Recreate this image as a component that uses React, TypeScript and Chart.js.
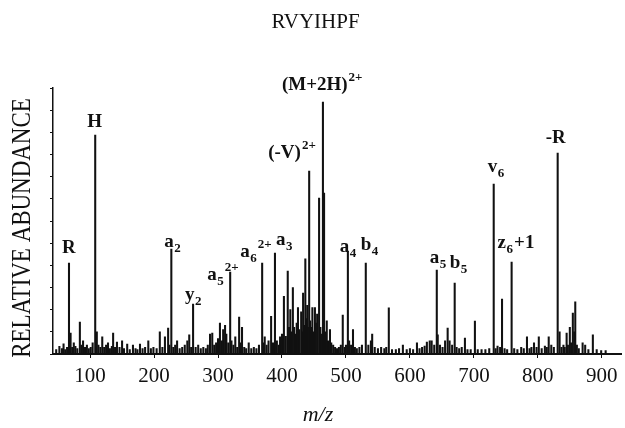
import React, { useEffect, useRef } from 'react';
import { Chart, registerables } from 'chart.js';

Chart.register(...registerables);

// ---- data ----
const chartTitle = 'RVYIHPF';
const yTitle = 'RELATIVE ABUNDANCE';
const xTitle = 'm/z';

const xTickValues = [100, 200, 300, 400, 500, 600, 700, 800, 900];
const yTickValues = [0, 10, 20, 30, 40, 50, 60, 70, 80, 90, 100, 110, 120];

// labelled fragment peaks
const labelledMz = [67, 108, 227, 261, 319, 369, 389, 442.5, 464, 503, 531, 642, 670, 731, 759, 831];
const labelledInt = [41, 98.8, 47.4, 22.5, 37, 41, 45.6, 82.6, 113.7, 46.5, 41, 37.9, 32, 76.7, 41.5, 90.7];
const labelMain = ['R', 'H', 'a', 'y', 'a', 'a', 'a', '(-V)', '(M+2H)', 'a', 'b', 'a', 'b', 'v', 'z', '-R'];
const labelSub = ['', '', '2', '2', '5', '6', '3', '', '', '4', '4', '5', '5', '6', '6', ''];
const labelSup = ['', '', '', '', '2+', '2+', '', '2+', '2+', '', '', '', '', '', '', ''];
const labelTail = ['', '', '', '', '', '', '', '', '', '', '', '', '', '', '+1', ''];

// other (unlabelled) peaks
const otherMz = [
  47, 52, 56, 58.5, 61, 64, 69.5, 72, 74.5, 77, 80, 84, 86.5, 89, 92, 95, 98, 101, 104,
  110.5, 113, 116, 119, 122, 125, 128, 131, 134, 136, 139, 142, 146, 150, 153, 158, 162,
  167, 171, 174, 178, 182, 186, 191, 195, 199, 204, 209, 213, 217, 222, 224, 230, 233,
  236, 240, 244, 248, 252, 255, 258, 265, 269, 273, 277, 281, 284, 287.5, 291, 294, 297,
  300, 303, 306, 308, 311, 313, 316, 321, 324, 327, 330, 333, 335, 337.5, 341, 344, 348,
  352, 356, 360, 364, 371, 373, 376, 379, 383, 386, 392, 395, 397, 400, 403, 406, 409,
  411, 413, 415, 417, 419, 421, 423, 425, 427, 430, 431.5, 433, 435, 436.5, 438, 439.5,
  441, 444, 446, 447.5, 449, 451.5, 453, 455, 458, 460, 462, 465.8, 468, 470, 472, 475,
  477, 480, 483, 486, 489, 492, 495, 498, 500, 505, 508, 511, 514, 517, 521, 525, 535,
  539, 541, 545, 550, 555, 560, 563, 567, 572, 578, 583, 589, 595, 600, 605, 611, 615,
  619, 623, 626.5, 631, 634, 638, 643.5, 647, 651, 655, 659, 662, 666, 673, 677, 681,
  686, 690, 695, 701.6, 706, 712, 718, 724, 734, 737, 741, 744, 748, 752, 763, 768, 774,
  778, 783, 787, 790, 794, 798, 801.5, 806, 811, 814, 817, 821, 825, 834, 837, 840, 842,
  845, 847, 850, 852, 854.7, 857, 858.5, 861, 864, 870, 874, 879, 886, 892, 899, 906,
];
const otherInt = [
  2, 3.5, 2.5, 4.6, 2, 3, 9.5, 3, 5, 3.5, 2.5, 14.4, 4, 6, 3, 4, 2.5, 3, 5,
  10, 4, 3, 7.7, 3, 4, 5, 2.5, 3.5, 9.5, 3, 5.4, 3, 6, 2.5, 4.5, 2,
  4, 2.5, 2, 4.5, 2.5, 3, 6, 2.5, 3, 2.5, 10, 3, 7.7, 11.7, 4, 3, 4,
  6, 2.5, 3, 4, 6, 8.6, 3, 3, 4, 2.5, 3, 2.5, 4, 9, 9.5, 4, 5,
  7, 14, 6, 11, 13, 9, 5, 6, 4, 7.7, 3, 16.7, 5, 12, 3, 2.5, 5,
  2.5, 3, 2.5, 4, 5, 7.7, 4, 6, 17, 5, 6, 4, 7.7, 9, 26, 8, 37.4,
  12, 20, 10, 30, 12, 9, 14, 21, 11, 19, 10, 27.5, 13, 43, 16, 22,
  12, 15, 12, 21, 10, 21, 14, 18, 70.4, 12, 9, 72.6, 10, 15, 6, 11,
  5, 4, 3, 2.5, 3, 4, 17.6, 3, 4, 6, 4, 11, 3, 2.5, 3, 4, 4,
  6, 9, 3, 2.5, 3, 2.5, 3, 20.8, 2, 2, 2.5, 4, 2, 2.5, 2, 5, 2.5,
  3, 3.6, 5.4, 5.9, 6, 4, 8.6, 4, 3, 6, 11.7, 6, 4, 3, 2.5, 3,
  7.2, 2, 2, 14.9, 2, 2, 2, 2.5, 2.5, 3.6, 3, 24.8, 2.5, 2, 2.5, 2, 3,
  2.5, 7.7, 2.5, 3, 5, 3, 7.7, 2.5, 3.6, 3, 7.7, 4, 3, 10, 3, 4, 3,
  9.5, 4, 12, 5, 18.5, 10, 23.5, 4, 2.5, 5, 4, 2, 8.6, 2, 1.5, 1.5,
];

// ---- styling / layout ----
const INK = '#111111';
const SERIF = '"Liberation Serif", "Times New Roman", serif';
const LABEL_FONT = `bold 19px ${SERIF}`;
const SMALL_FONT = `bold 13px ${SERIF}`;
// pixel offsets of each label (left edge / baseline) from its peak tip
const labelDx = [-7, -8, -7, -8, -23, -22, 1, -41, -41, -8, -5, -7, -5, -6, -14, -12];
const labelDy = [-10, -8, -2, -4, 8, -6, -8, -13, -12, 1, -13, -7, -15, -12, -14, -10];

const textPlugin = {
  id: 'spectrumText',
  afterDraw(chart: any) {
    const { ctx } = chart;
    const xs = chart.scales.x;
    const ys = chart.scales.y;
    ctx.save();
    ctx.fillStyle = INK;
    ctx.textAlign = 'left';
    ctx.textBaseline = 'alphabetic';
    labelledMz.forEach((mz, i) => {
      let px = xs.getPixelForValue(mz) + labelDx[i];
      const py = ys.getPixelForValue(labelledInt[i]) + labelDy[i];
      ctx.font = LABEL_FONT;
      ctx.fillText(labelMain[i], px, py);
      px += ctx.measureText(labelMain[i]).width;
      if (labelSub[i]) {
        ctx.font = SMALL_FONT;
        ctx.fillText(labelSub[i], px + 0.5, py + 5);
        px += ctx.measureText(labelSub[i]).width + 0.5;
      }
      if (labelSup[i]) {
        ctx.font = SMALL_FONT;
        ctx.fillText(labelSup[i], px + 1, py - 9);
        px += ctx.measureText(labelSup[i]).width + 1;
      }
      if (labelTail[i]) {
        ctx.font = LABEL_FONT;
        ctx.fillText(labelTail[i], px + 1, py);
      }
    });

    // y axis title (condensed serif, rotated)
    ctx.save();
    ctx.translate(23, 228);
    ctx.rotate(-Math.PI / 2);
    ctx.scale(0.82, 1);
    ctx.font = `28px ${SERIF}`;
    ctx.textAlign = 'center';
    ctx.textBaseline = 'middle';
    ctx.fillText(yTitle, 0, 0);
    ctx.restore();

    // x axis title
    ctx.font = `italic 22px ${SERIF}`;
    ctx.textAlign = 'center';
    ctx.textBaseline = 'middle';
    ctx.fillText(xTitle, 318, 415);
    ctx.restore();
  },
};

export default function App() {
  const ref = useRef<HTMLCanvasElement>(null);

  useEffect(() => {
    const canvas = ref.current;
    if (!canvas) return;
    const points = [
      ...labelledMz.map((x, i) => ({ x, y: labelledInt[i] })),
      ...otherMz.map((x, i) => ({ x, y: otherInt[i] })),
    ];
    const chart = new Chart(canvas, {
      type: 'bar',
      data: {
        datasets: [
          {
            data: points as any,
            backgroundColor: INK,
            borderWidth: 0,
            barThickness: 1.4,
            grouped: false,
          } as any,
        ],
      },
      options: {
        responsive: false,
        animation: false,
        devicePixelRatio: 1,
        layout: { padding: { left: 10, right: 4, top: 0, bottom: 0 } },
        plugins: {
          legend: { display: false },
          tooltip: { enabled: false },
          title: {
            display: true,
            text: chartTitle,
            color: INK,
            font: { family: SERIF, size: 21, weight: 'normal' },
            padding: { top: 10, bottom: 53 },
          },
        },
        scales: {
          x: {
            type: 'linear',
            min: 42,
            max: 930,
            offset: false,
            afterBuildTicks: (s: any) => {
              s.ticks = xTickValues.map((v) => ({ value: v }));
            },
            afterFit: (s: any) => {
              s.height = 74;
            },
            grid: {
              display: true,
              drawOnChartArea: false,
              drawTicks: true,
              tickLength: 4,
              color: INK,
              lineWidth: 1,
              offset: false,
            },
            border: { display: true, color: INK, width: 2 },
            ticks: {
              color: INK,
              font: { family: SERIF, size: 21 },
              padding: 6,
              maxRotation: 0,
              autoSkip: false,
            },
          },
          y: {
            min: 0,
            max: 120,
            afterBuildTicks: (s: any) => {
              s.ticks = yTickValues.map((v) => ({ value: v }));
            },
            afterFit: (s: any) => {
              s.width = 43;
            },
            grid: {
              display: true,
              drawOnChartArea: false,
              drawTicks: true,
              tickLength: 3,
              color: INK,
              lineWidth: 1,
            },
            border: { display: true, color: INK, width: 1.5 },
            ticks: { display: false },
          },
        },
      } as any,
      plugins: [textPlugin],
    });
    return () => chart.destroy();
  }, []);

  return (
    <div style={{ position: 'fixed', left: 0, top: 0, width: 625, height: 428, background: '#ffffff' }}>
      <canvas ref={ref} width={625} height={428} style={{ display: 'block', width: 625, height: 428 }} />
    </div>
  );
}
